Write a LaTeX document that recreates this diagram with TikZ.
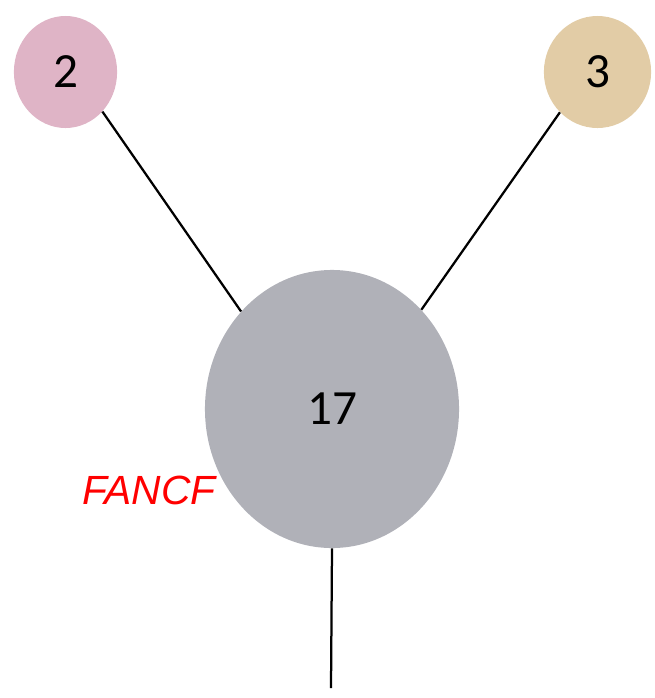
\documentclass[tikz,border=0pt]{standalone}
\usepackage{fontspec}
\setmainfont{Carlito}
\newfontfamily\labelfont{Liberation Sans}
\usetikzlibrary{shapes.geometric}
\definecolor{pinknode}{HTML}{DFB4C6}
\definecolor{tannode}{HTML}{E2CCA6}
\definecolor{graynode}{HTML}{B0B1B8}
\tikzset{
  blob/.style={ellipse, fill=#1, draw=none, inner sep=0pt, font=\fontsize{35}{38}\selectfont},
  link/.style={line width=1.6pt, black}
}

\begin{document}
\begin{tikzpicture}[x=0.025cm, y=-0.025cm]
\useasboundingbox (0,0) rectangle (655,698);
\node[blob=pinknode, minimum width=2.58cm, minimum height=2.8cm] (n2) at (65.5,72) {2};
\node[blob=tannode, minimum width=2.68cm, minimum height=2.8cm] (n3) at (597.5,72) {3};
\node[blob=graynode, minimum width=6.35cm, minimum height=6.95cm] (n17) at (332,409) {17};
\node[font=\labelfont\itshape\fontsize{29}{33}\selectfont, text=red] (fancf) at (149,490) {FANCF};
\coordinate (tail) at (331,688);
\draw[link] (n2.-47) -- (n17.133);
\draw[link] (n3.-133) -- (n17.48);
\draw[link] (n17.south) -- (tail);
\end{tikzpicture}
\end{document}
